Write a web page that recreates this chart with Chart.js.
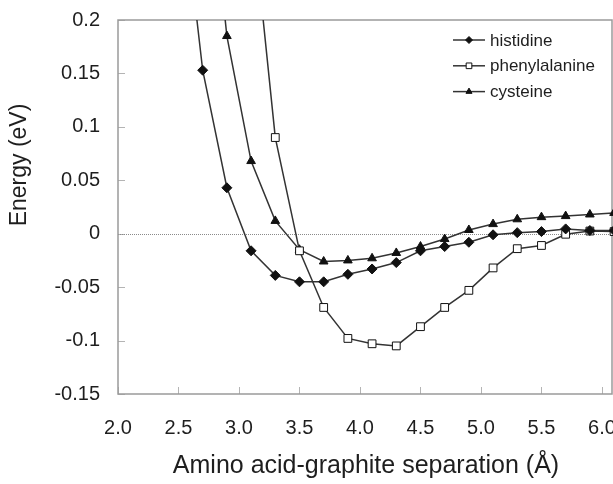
<!DOCTYPE html>
<html>
<head>
<meta charset="utf-8">
<script src="https://cdn.jsdelivr.net/npm/chart.js@4"></script>
<style>
  body { margin: 0; background: #fff; overflow: hidden; }
  #wrap { width: 613px; height: 484px; }
</style>
</head>
<body>
<div id="wrap"><canvas id="chartData"></canvas></div>
<script>
// separation (Å)
const separations = [2.5, 2.7, 2.9, 3.1, 3.3, 3.5, 3.7, 3.9, 4.1, 4.3, 4.5, 4.7, 4.9, 5.1, 5.3, 5.5, 5.7, 5.9, 6.1];
// energies (eV), null = no point
const histidine = [0.35, 0.153, 0.043, -0.016, -0.039, -0.045, -0.045, -0.038, -0.033, -0.027, -0.016, -0.012, -0.008, -0.001, 0.001, 0.002, 0.0045, 0.003, 0.003];
const phenylalanine = [null, null, null, 0.31, 0.09, -0.016, -0.069, -0.098, -0.103, -0.105, -0.087, -0.069, -0.053, -0.032, -0.014, -0.011, -0.0005, 0.0025, 0.002];
const cysteine = [null, 0.4, 0.185, 0.068, 0.012, -0.015, -0.026, -0.025, -0.023, -0.018, -0.012, -0.005, 0.0035, 0.009, 0.0135, 0.0155, 0.0165, 0.018, 0.0195];

const seriesNames = ['histidine', 'phenylalanine', 'cysteine'];
const xTitle = 'Amino acid-graphite separation (Å)';
const yTitle = 'Energy (eV)';

const FONT = '"Liberation Sans", Arial, sans-serif';

function points(values) {
    let out = [];
    for (let i = 0; i < separations.length; i++) {
        if (values[i] != null) out.push({ x: separations[i], y: values[i] });
    }
    return out;
}

function series(label, values, style, fill) {
    return {
        label: label,
        data: points(values),
        borderColor: '#333',
        borderWidth: 1.5,
        pointStyle: style,
        pointRadius: style == 'rect' ? 5.5 : 5,
        pointBackgroundColor: fill,
        pointBorderColor: '#111',
        pointBorderWidth: 1,
        tension: 0,
        clip: { left: 0, top: 0, right: 8, bottom: 0 }
    };
}

// frame, inner tick marks, dotted zero line, titles, legend
const decor = {
    id: 'decor',
    beforeDatasetsDraw(chart) {
        const { ctx, chartArea: a, scales } = chart;
        ctx.save();
        ctx.strokeStyle = '#b4b4b4';
        ctx.lineWidth = 1;
        ctx.beginPath();
        scales.x.ticks.forEach(t => {
            let px = Math.round(scales.x.getPixelForValue(t.value)) + 0.5;
            ctx.moveTo(px, a.bottom);
            ctx.lineTo(px, a.bottom - 7);
        });
        scales.y.ticks.forEach(t => {
            let py = Math.round(scales.y.getPixelForValue(t.value)) + 0.5;
            ctx.moveTo(a.left, py);
            ctx.lineTo(a.left + 7, py);
        });
        ctx.stroke();

        // zero line
        let y0 = Math.round(scales.y.getPixelForValue(0)) + 0.5;
        ctx.strokeStyle = '#8a8a8a';
        ctx.setLineDash([1, 1]);
        ctx.beginPath();
        ctx.moveTo(a.left, y0);
        ctx.lineTo(a.right, y0);
        ctx.stroke();
        ctx.setLineDash([]);

        // frame
        ctx.strokeStyle = '#9a9a9a';
        ctx.lineWidth = 1.5;
        ctx.strokeRect(a.left, a.top, a.right - a.left, a.bottom - a.top);
        ctx.restore();
    },
    afterDraw(chart) {
        const { ctx } = chart;
        ctx.save();
        ctx.fillStyle = '#1e1e1e';
        ctx.textAlign = 'center';
        ctx.textBaseline = 'middle';
        ctx.font = '25px ' + FONT;
        ctx.fillText(xTitle, 366, 466);

        ctx.translate(20, 165);
        ctx.rotate(-Math.PI / 2);
        ctx.font = '23px ' + FONT;
        ctx.fillText(yTitle, 0, 0);
        ctx.restore();

        // legend
        ctx.save();
        ctx.font = '17px ' + FONT;
        ctx.textAlign = 'left';
        ctx.textBaseline = 'middle';
        chart.data.datasets.forEach((ds, i) => {
            let y = 40 + i * 25.8;
            ctx.strokeStyle = ds.borderColor;
            ctx.lineWidth = 1.5;
            ctx.beginPath();
            ctx.moveTo(453, y);
            ctx.lineTo(485, y);
            ctx.stroke();
            ctx.fillStyle = ds.pointBackgroundColor;
            ctx.strokeStyle = ds.pointBorderColor;
            ctx.lineWidth = 1;
            Chart.helpers.drawPoint(ctx, { pointStyle: ds.pointStyle, radius: ds.pointRadius - 1.5, rotation: 0, borderWidth: 1 }, 469, y);
            ctx.fillStyle = '#1e1e1e';
            ctx.fillText(ds.label, 490, y + 1);
        });
        ctx.restore();
    }
};

const ctx = document.getElementById('chartData');

new Chart(ctx, {
    type: 'line',
    data: {
        datasets: [
            series(seriesNames[0], histidine, 'rectRot', '#111'),
            series(seriesNames[1], phenylalanine, 'rect', '#fff'),
            series(seriesNames[2], cysteine, 'triangle', '#111')
        ]
    },
    options: {
        responsive: true,
        maintainAspectRatio: false,
        animation: false,
        layout: { autoPadding: false, padding: { top: 20, right: 1, left: 0, bottom: 0 } },
        plugins: {
            legend: { display: false },
            tooltip: { enabled: false }
        },
        scales: {
            x: {
                type: 'linear',
                min: 2.0,
                max: 6.083,
                grid: { display: false, drawTicks: false },
                border: { display: false },
                ticks: {
                    stepSize: 0.5,
                    includeBounds: false,
                    maxRotation: 0,
                    autoSkip: false,
                    padding: 22,
                    color: '#1e1e1e',
                    font: { family: FONT, size: 20 },
                    callback: v => v.toFixed(1)
                },
                afterFit: s => { s.height = 90; s.paddingLeft = 0; s.paddingRight = 0; }
            },
            y: {
                min: -0.15,
                max: 0.2,
                grid: { display: false, drawTicks: false },
                border: { display: false },
                ticks: {
                    stepSize: 0.05,
                    padding: 18,
                    color: '#1e1e1e',
                    font: { family: FONT, size: 20 },
                    callback: v => String(+v.toFixed(2))
                },
                afterFit: s => { s.width = 118; s.paddingTop = 0; s.paddingBottom = 0; }
            }
        }
    },
    plugins: [decor]
});
</script>
</body>
</html>
